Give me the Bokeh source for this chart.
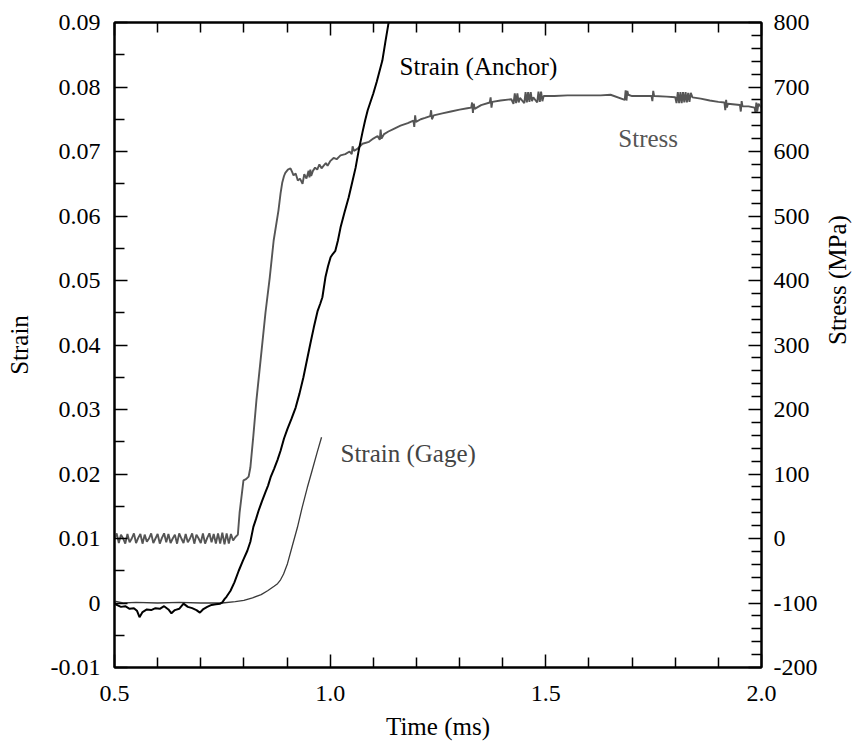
import math
from bokeh.plotting import figure
from bokeh.models import Range1d, LinearAxis, FixedTicker, Label, CustomJSTickFormatter
from bokeh.embed import file_html
from bokeh.resources import INLINE

# ---------------- data ----------------
stress_time = [
    0.500, 0.505, 0.510, 0.515, 0.520, 0.525, 0.530, 0.535, 0.540, 0.545,
    0.550, 0.555, 0.560, 0.565, 0.570, 0.575, 0.580, 0.585, 0.590, 0.595,
    0.600, 0.605, 0.610, 0.615, 0.620, 0.625, 0.630, 0.635, 0.640, 0.645,
    0.650, 0.655, 0.660, 0.665, 0.670, 0.675, 0.680, 0.685, 0.690, 0.695,
    0.700, 0.705, 0.710, 0.715, 0.720, 0.725, 0.730, 0.735, 0.740, 0.745,
    0.750, 0.755, 0.760, 0.765, 0.770, 0.775, 0.780, 0.786,
    0.790, 0.799, 0.805, 0.811, 0.815, 0.822, 0.829, 0.840, 0.850, 0.860,
    0.869, 0.880, 0.885, 0.889, 0.893,
    0.896, 0.902, 0.908, 0.912, 0.915, 0.920, 0.925, 0.930, 0.936, 0.940,
    0.945, 0.950, 0.952, 0.954, 0.956, 0.960, 0.965, 0.970, 0.975, 0.980,
    0.985, 0.990, 0.994, 1.000, 1.008, 1.015, 1.024, 1.035, 1.045, 1.050,
    1.052, 1.055, 1.063, 1.075, 1.090, 1.100, 1.110, 1.115, 1.117, 1.119,
    1.125, 1.135, 1.150, 1.163, 1.180, 1.193, 1.195, 1.197, 1.199, 1.210,
    1.220, 1.232, 1.234, 1.236, 1.240, 1.260, 1.280, 1.300, 1.318, 1.327,
    1.329, 1.331, 1.333, 1.335, 1.350, 1.370, 1.372, 1.374, 1.376, 1.395,
    1.420, 1.425, 1.428, 1.431, 1.434, 1.437, 1.440, 1.450, 1.453, 1.456,
    1.459, 1.462, 1.465, 1.468, 1.471, 1.480, 1.483, 1.486, 1.489, 1.492,
    1.495, 1.520, 1.550, 1.600, 1.627, 1.650, 1.683, 1.685, 1.687, 1.689,
    1.691, 1.700, 1.745, 1.747, 1.749, 1.751, 1.780, 1.800, 1.803, 1.806,
    1.809, 1.812, 1.815, 1.818, 1.821, 1.824, 1.827, 1.830, 1.833, 1.836,
    1.840, 1.859, 1.880, 1.900, 1.914, 1.916, 1.918, 1.920, 1.922, 1.950,
    1.952, 1.954, 1.956, 1.970, 1.984, 1.986, 1.988, 1.990, 1.993, 2.000,
]
stress_mpa = [
    0, 8, -7, 6, 0, -8, 7, -6, 0, 8,
    -7, 1, 7, -8, 6, -5, 0, 8, -7, 0,
    7, -8, 1, 8, -6, 7, -7, 0, 6, -8,
    8, 0, -7, 7, -6, 0, 8, -8, 6, 0,
    -7, 8, -8, 1, 8, -6, 7, -8, 8, -8,
    9, -9, 8, -8, 7, -3, 2, 6,
    40, 90, 92, 96, 110, 160, 214, 285, 350, 405,
    462, 508, 535, 552, 562,
    567, 572, 574, 568, 563, 566, 555, 558, 550, 565,
    558, 570, 560, 572, 562, 570, 575, 572, 580, 574,
    578, 582, 578, 585, 590, 588, 594, 596, 600, 596,
    608, 601, 604, 612, 615, 620, 624, 618, 634, 620,
    627, 631, 636, 640, 644, 648, 638, 656, 646, 650,
    652, 655, 664, 650, 656, 659, 662, 665, 667, 668,
    676, 660, 674, 666, 672, 676, 684, 668, 677, 679,
    681, 674, 690, 675, 690, 676, 683, 675, 692, 676,
    692, 677, 692, 678, 684, 676, 693, 677, 693, 678,
    686, 686, 687, 687, 687, 688, 680, 695, 679, 694,
    688, 686, 686, 678, 694, 686, 685, 684, 675, 692,
    675, 692, 675, 692, 676, 692, 676, 691, 677, 691,
    684, 682, 679, 677, 676, 664, 680, 668, 674, 672,
    662, 678, 670, 670, 668, 660, 676, 662, 674, 668,
]

anchor_time = [
    0.500, 0.505, 0.515, 0.525, 0.535, 0.545, 0.552, 0.558, 0.565, 0.575,
    0.585, 0.595, 0.605, 0.615, 0.625, 0.632, 0.640, 0.650, 0.660, 0.670,
    0.680, 0.690, 0.698, 0.705, 0.715, 0.725, 0.735, 0.745, 0.750, 0.755,
    0.760, 0.769, 0.778, 0.788, 0.798, 0.808, 0.815, 0.822, 0.828, 0.834,
    0.842, 0.850, 0.856, 0.862, 0.870, 0.878, 0.885, 0.893, 0.901, 0.910,
    0.920, 0.929, 0.938, 0.946, 0.954, 0.962, 0.971, 0.977, 0.982, 0.989,
    0.995, 1.001, 1.006, 1.012, 1.018, 1.024, 1.033, 1.043, 1.051, 1.059,
    1.066, 1.075, 1.081, 1.087, 1.093, 1.100, 1.108, 1.115, 1.121, 1.128,
    1.135, 1.140,
]
anchor_strain = [
    0.0000, -0.0003, -0.0006, -0.0005, -0.0009, -0.0008, -0.0012, -0.0022, -0.0014, -0.0010,
    -0.0011, -0.0008, -0.0009, -0.0005, -0.0010, -0.0016, -0.0011, -0.0009, -0.0001, -0.0006,
    -0.0008, -0.0011, -0.0015, -0.0010, -0.0006, -0.0003, -0.0002, -0.0001, 0.0001, 0.0006,
    0.0010, 0.0019, 0.0032, 0.0050, 0.0066, 0.0081, 0.0095, 0.0118, 0.0130, 0.0143,
    0.0158, 0.0172, 0.0182, 0.0195, 0.0208, 0.0222, 0.0236, 0.0255, 0.0270, 0.0285,
    0.0303, 0.0325, 0.0350, 0.0376, 0.0402, 0.0427, 0.0453, 0.0464, 0.0474, 0.0505,
    0.0522, 0.0536, 0.0541, 0.0546, 0.0562, 0.0582, 0.0605, 0.0629, 0.0652, 0.0675,
    0.0701, 0.0730, 0.0748, 0.0764, 0.0776, 0.0790, 0.0808, 0.0826, 0.0841, 0.0870,
    0.0898, 0.0915,
]

gage_time = [
    0.500, 0.520, 0.550, 0.600, 0.650, 0.700, 0.750, 0.780, 0.800, 0.820,
    0.840, 0.855, 0.870, 0.878, 0.885, 0.892, 0.901, 0.912, 0.924, 0.935,
    0.947, 0.958, 0.970, 0.980,
]
gage_strain = [
    0.0003, 0.0000, 0.0001, 0.0000, 0.0001, 0.0000, 0.0000, 0.0002, 0.0004, 0.0008,
    0.0013, 0.0019, 0.0026, 0.0030, 0.0036, 0.0045, 0.0061, 0.0088, 0.0117, 0.0148,
    0.0179, 0.0205, 0.0234, 0.0257,
]

x_major = [0.5, 1.0, 1.5, 2.0]
x_minor = [0.6, 0.7, 0.8, 0.9, 1.1, 1.2, 1.3, 1.4, 1.6, 1.7, 1.8, 1.9]
strain_major = [-0.01, 0.0, 0.01, 0.02, 0.03, 0.04, 0.05, 0.06, 0.07, 0.08, 0.09]
strain_minor = [-0.005, 0.005, 0.015, 0.025, 0.035, 0.045, 0.055, 0.065, 0.075, 0.085]
stress_major = [-200, -100, 0, 100, 200, 300, 400, 500, 600, 700, 800]
stress_minor = [-180, -160, -140, -120, -80, -60, -40, -20, 20, 40, 60, 80,
                120, 140, 160, 180, 220, 240, 260, 280, 320, 340, 360, 380,
                420, 440, 460, 480, 520, 540, 560, 580, 620, 640, 660, 680,
                720, 740, 760, 780]

FONT = "Liberation Serif"

p = figure(frame_width=647, frame_height=645,
           x_range=Range1d(0.5, 2.0), y_range=Range1d(-0.01, 0.09),
           output_backend="svg", toolbar_location=None,
           min_border_left=114, min_border_right=98,
           min_border_top=22, min_border_bottom=78)
p.extra_y_ranges = {"stress": Range1d(-200, 800)}
p.grid.visible = False
p.outline_line_color = "black"
p.outline_line_width = 2
p.background_fill_color = "white"
p.border_fill_color = "white"


def style_axis(ax, label_size="24px"):
    ax.axis_line_width = 2
    ax.axis_line_color = "black"
    ax.major_tick_in = 13
    ax.major_tick_out = 0
    ax.minor_tick_in = 10
    ax.minor_tick_out = 0
    ax.major_tick_line_width = 1.5
    ax.minor_tick_line_width = 1.5
    ax.major_tick_line_color = "black"
    ax.minor_tick_line_color = "black"
    ax.major_label_text_font = FONT
    ax.major_label_text_font_size = label_size
    ax.major_label_text_color = "black"
    ax.axis_label_text_font = FONT
    ax.axis_label_text_font_size = "25px"
    ax.axis_label_text_font_style = "normal"
    ax.axis_label_text_color = "black"


xa = p.xaxis[0]
style_axis(xa)
xa.ticker = FixedTicker(ticks=x_major, minor_ticks=x_minor)
xa.formatter = CustomJSTickFormatter(code="return tick.toFixed(1);")
xa.axis_label = "Time (ms)"
xa.major_label_standoff = 18
xa.axis_label_standoff = 9

ya = p.yaxis[0]
style_axis(ya)
ya.ticker = FixedTicker(ticks=strain_major, minor_ticks=strain_minor)
ya.formatter = CustomJSTickFormatter(
    code="return Math.abs(tick) < 1e-9 ? '0' : tick.toFixed(2);")
ya.axis_label = "Strain"
ya.major_label_standoff = 14
ya.axis_label_standoff = 15

top = LinearAxis()
style_axis(top)
top.ticker = FixedTicker(ticks=x_major, minor_ticks=x_minor)
top.formatter = CustomJSTickFormatter(code="return '';")
top.major_label_standoff = 0
top.axis_label = None
p.add_layout(top, "above")

ra = LinearAxis(y_range_name="stress")
style_axis(ra)
ra.ticker = FixedTicker(ticks=stress_major, minor_ticks=stress_minor)
ra.formatter = CustomJSTickFormatter(code="return tick.toFixed(0);")
ra.axis_label = "Stress (MPa)"
ra.axis_label_orientation = math.pi / 2
ra.major_label_standoff = 12
ra.axis_label_standoff = 17
p.add_layout(ra, "right")

p.line(stress_time, stress_mpa, y_range_name="stress",
       line_color="#555555", line_width=1.9)
p.line(gage_time, gage_strain, line_color="#3a3a3a", line_width=1.3)
p.line(anchor_time, anchor_strain, line_color="black", line_width=2)

for txt, xx, yy, col in [("Strain (Anchor)", 1.161, 0.0832, "black"),
                         ("Stress", 1.668, 0.0720, "#555555"),
                         ("Strain (Gage)", 1.024, 0.0232, "#444444")]:
    p.add_layout(Label(x=xx, y=yy, text=txt, text_font=FONT,
                       text_font_size="25px", text_color=col,
                       text_align="left", text_baseline="alphabetic"))

open("out.html", "w").write(file_html(p, INLINE))
